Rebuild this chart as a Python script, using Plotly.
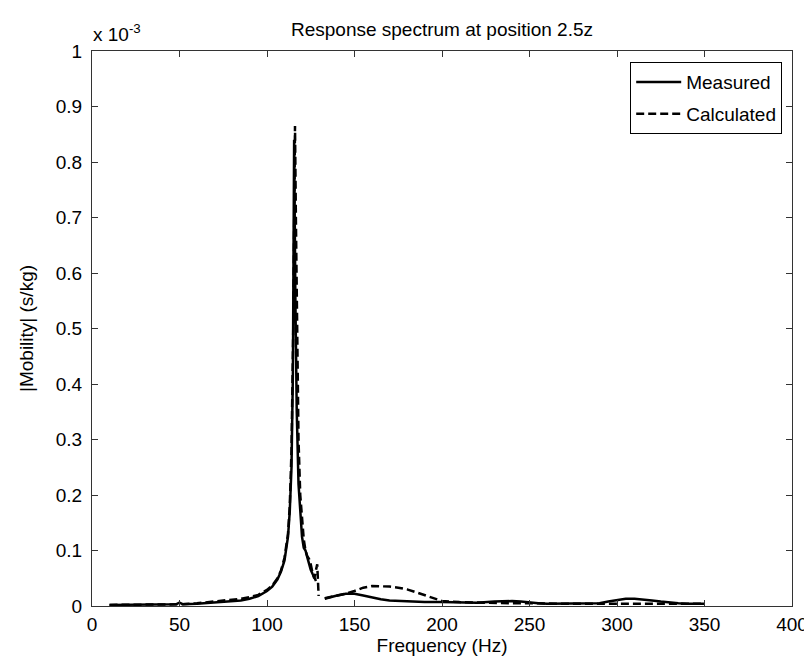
import plotly.graph_objects as go

# Frequency (Hz) and |Mobility| values in units of 1e-3 s/kg
meas_f = [10, 20, 30, 40, 48, 50, 52, 60, 70, 80, 85, 90, 95, 100, 103, 106, 108, 110, 112, 113,
          114, 114.8, 115.5, 116.2, 117, 118, 119, 120, 121, 122, 123, 124, 125, 126, 127, 128,
          130,
          133, 136, 140, 145, 150, 155, 160, 165, 170, 180, 190, 200, 210, 220, 230, 235, 240,
          245, 250, 255, 260, 270, 280, 290, 295, 300, 305, 310, 315, 320, 325, 330, 335, 340,
          345, 350]
meas_v = [0.002, 0.002, 0.002, 0.003, 0.003, 0.006, 0.003, 0.004, 0.006, 0.008, 0.010, 0.013,
          0.018, 0.027, 0.035, 0.048, 0.062, 0.082, 0.125, 0.170,
          0.250, 0.420, 0.840, 0.560, 0.350, 0.220, 0.160, 0.125, 0.105, 0.100, 0.088, 0.075,
          0.065, 0.058, 0.052, 0.045,
          None,
          0.013, 0.016, 0.019, 0.022, 0.022, 0.019, 0.015, 0.012, 0.010, 0.008, 0.007, 0.007,
          0.006, 0.006, 0.008, 0.009, 0.009, 0.008, 0.006, 0.005, 0.004, 0.004, 0.004, 0.005,
          0.008, 0.011, 0.013, 0.013, 0.012, 0.010, 0.008, 0.006, 0.005, 0.004, 0.004, 0.004]

calc_f = [10, 20, 30, 40, 50, 60, 70, 80, 85, 90, 95, 100, 103, 106, 108, 110, 112, 113, 114,
          115, 115.6, 116, 116.5, 117.2, 118, 119, 120, 121, 122, 123, 124, 125, 126, 127, 128,
          128.7, 129.5,
          131,
          133, 136, 140, 145, 150, 155, 160, 165, 170, 175, 180, 185, 190, 195, 200, 210, 220,
          230, 240, 250, 260, 270, 280, 290, 300, 310, 320, 330, 340, 350]
calc_v = [0.002, 0.002, 0.002, 0.002, 0.003, 0.005, 0.008, 0.011, 0.013, 0.016, 0.020, 0.029,
          0.037, 0.050, 0.064, 0.087, 0.130, 0.180, 0.280,
          0.500, 0.750, 0.865, 0.700, 0.450, 0.300, 0.200, 0.150, 0.120, 0.100, 0.090, 0.085,
          0.075, 0.060, 0.050, 0.065,
          0.075, 0.018,
          None,
          0.014, 0.016, 0.018, 0.022, 0.027, 0.033, 0.036, 0.036, 0.035, 0.033, 0.030, 0.025,
          0.020, 0.014, 0.009, 0.007, 0.006, 0.005, 0.005, 0.005, 0.004, 0.004, 0.004, 0.004,
          0.005, 0.005, 0.005, 0.004, 0.004, 0.004]

x_ticks = [0, 50, 100, 150, 200, 250, 300, 350, 400]
y_ticks = [0, 0.1, 0.2, 0.3, 0.4, 0.5, 0.6, 0.7, 0.8, 0.9, 1.0]
y_tick_text = ["0", "0.1", "0.2", "0.3", "0.4", "0.5", "0.6", "0.7", "0.8", "0.9", "1"]

FONT = "Liberation Sans, Arial, sans-serif"
FS = 19

fig = go.Figure()
fig.add_trace(go.Scatter(x=meas_f, y=meas_v, mode="lines", name="Measured",
                         line=dict(color="black", width=2.5), legendgroup="m",
                         connectgaps=False))
fig.add_trace(go.Scatter(x=calc_f, y=calc_v, mode="lines", name="Calculated",
                         line=dict(color="black", width=2.5, dash="8px,4px"), legendgroup="c",
                         connectgaps=False))

axis_common = dict(showline=True, linecolor="#333", linewidth=1, mirror="ticks",
                   ticks="inside", ticklen=6, tickcolor="#333", showgrid=False,
                   zeroline=False, tickfont=dict(family=FONT, size=FS, color="black"))

fig.update_layout(
    width=812, height=657,
    margin=dict(l=84, r=20, t=43, b=59),
    paper_bgcolor="white", plot_bgcolor="white",
    font=dict(family=FONT, size=FS, color="black"),
    showlegend=True,
    legend=dict(x=0.986, xanchor="right", y=0.98, yanchor="top",
                bordercolor="black", borderwidth=1, bgcolor="white",
                font=dict(family=FONT, size=FS, color="black"),
                tracegroupgap=4, itemwidth=45),
    xaxis=dict(range=[0, 400], tickvals=x_ticks, ticklabelstandoff=1,
               title=dict(text="Frequency (Hz)", standoff=4,
                          font=dict(family=FONT, size=FS)),
               **axis_common),
    yaxis=dict(range=[0, 1], tickvals=y_ticks, ticktext=y_tick_text, ticklabelstandoff=5,
               title=dict(text="|Mobility| (s/kg)", standoff=17,
                          font=dict(family=FONT, size=FS)),
               **axis_common),
    title=dict(text="Response spectrum at position 2.5z", x=0.5, xref="paper",
               xanchor="center", y=1 - 21 / 657, yanchor="middle",
               font=dict(family=FONT, size=FS)),
    annotations=[dict(text="x 10<sup>-3</sup>", xref="paper", yref="paper", x=-0.002,
                      y=1 + 18 / 555, xanchor="left", yanchor="middle", showarrow=False,
                      font=dict(family=FONT, size=FS))],
)

fig.write_html("out.html")
